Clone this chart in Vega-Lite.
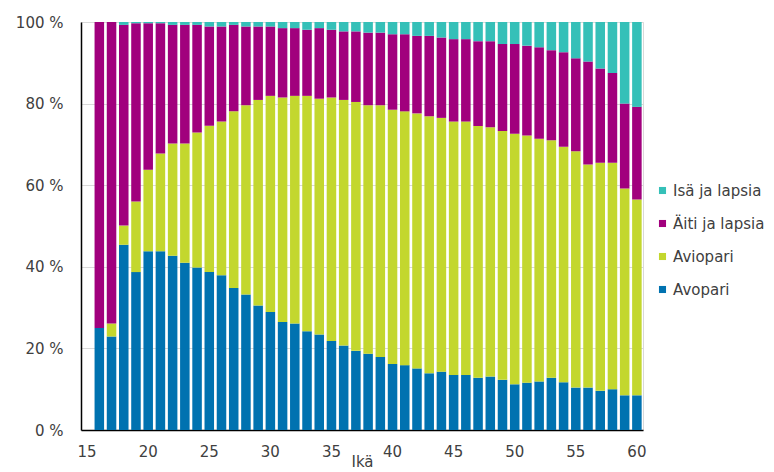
{
  "$schema": "https://vega.github.io/schema/vega-lite/v6.json",
  "width": 562,
  "height": 408,
  "autosize": {"type": "none"},
  "padding": {"left": 81, "top": 22, "right": 131, "bottom": 42},
  "background": "white",
  "config": {
    "font": "DejaVu Sans",
    "view": {"stroke": "#d9d9d9"},
    "axis": {"labelFont": "DejaVu Sans", "titleFont": "DejaVu Sans", "labelColor": "#404040", "titleColor": "#404040"},
    "legend": {"labelFont": "DejaVu Sans", "labelColor": "#404040"}
  },
  "data": {
    "values": [
      {"ika": 16, "Avopari": 25.0, "Aviopari": 0.0, "Äiti ja lapsia": 75.0, "Isä ja lapsia": 0.0},
      {"ika": 17, "Avopari": 22.9, "Aviopari": 3.2, "Äiti ja lapsia": 73.9, "Isä ja lapsia": 0.0},
      {"ika": 18, "Avopari": 45.4, "Aviopari": 4.7, "Äiti ja lapsia": 49.2, "Isä ja lapsia": 0.7},
      {"ika": 19, "Avopari": 38.7, "Aviopari": 17.3, "Äiti ja lapsia": 43.7, "Isä ja lapsia": 0.3},
      {"ika": 20, "Avopari": 43.8, "Aviopari": 20.0, "Äiti ja lapsia": 35.9, "Isä ja lapsia": 0.3},
      {"ika": 21, "Avopari": 43.8, "Aviopari": 24.0, "Äiti ja lapsia": 31.9, "Isä ja lapsia": 0.3},
      {"ika": 22, "Avopari": 42.7, "Aviopari": 27.5, "Äiti ja lapsia": 29.1, "Isä ja lapsia": 0.7},
      {"ika": 23, "Avopari": 41.0, "Aviopari": 29.2, "Äiti ja lapsia": 29.1, "Isä ja lapsia": 0.7},
      {"ika": 24, "Avopari": 39.8, "Aviopari": 33.1, "Äiti ja lapsia": 26.4, "Isä ja lapsia": 0.7},
      {"ika": 25, "Avopari": 38.7, "Aviopari": 35.9, "Äiti ja lapsia": 24.3, "Isä ja lapsia": 1.1},
      {"ika": 26, "Avopari": 37.9, "Aviopari": 37.7, "Äiti ja lapsia": 23.3, "Isä ja lapsia": 1.1},
      {"ika": 27, "Avopari": 34.8, "Aviopari": 43.3, "Äiti ja lapsia": 21.2, "Isä ja lapsia": 0.7},
      {"ika": 28, "Avopari": 33.2, "Aviopari": 46.4, "Äiti ja lapsia": 19.3, "Isä ja lapsia": 1.1},
      {"ika": 29, "Avopari": 30.5, "Aviopari": 50.4, "Äiti ja lapsia": 18.0, "Isä ja lapsia": 1.1},
      {"ika": 30, "Avopari": 28.9, "Aviopari": 53.0, "Äiti ja lapsia": 17.0, "Isä ja lapsia": 1.1},
      {"ika": 31, "Avopari": 26.5, "Aviopari": 55.0, "Äiti ja lapsia": 17.0, "Isä ja lapsia": 1.5},
      {"ika": 32, "Avopari": 26.1, "Aviopari": 55.8, "Äiti ja lapsia": 16.6, "Isä ja lapsia": 1.5},
      {"ika": 33, "Avopari": 24.2, "Aviopari": 57.7, "Äiti ja lapsia": 16.2, "Isä ja lapsia": 1.9},
      {"ika": 34, "Avopari": 23.4, "Aviopari": 57.8, "Äiti ja lapsia": 17.3, "Isä ja lapsia": 1.5},
      {"ika": 35, "Avopari": 21.8, "Aviopari": 59.7, "Äiti ja lapsia": 16.6, "Isä ja lapsia": 1.9},
      {"ika": 36, "Avopari": 20.7, "Aviopari": 60.2, "Äiti ja lapsia": 16.8, "Isä ja lapsia": 2.3},
      {"ika": 37, "Avopari": 19.4, "Aviopari": 61.0, "Äiti ja lapsia": 17.3, "Isä ja lapsia": 2.3},
      {"ika": 38, "Avopari": 18.7, "Aviopari": 60.9, "Äiti ja lapsia": 17.8, "Isä ja lapsia": 2.6},
      {"ika": 39, "Avopari": 17.9, "Aviopari": 61.7, "Äiti ja lapsia": 17.8, "Isä ja lapsia": 2.6},
      {"ika": 40, "Avopari": 16.2, "Aviopari": 62.3, "Äiti ja lapsia": 18.5, "Isä ja lapsia": 3.0},
      {"ika": 41, "Avopari": 15.9, "Aviopari": 62.2, "Äiti ja lapsia": 18.9, "Isä ja lapsia": 3.0},
      {"ika": 42, "Avopari": 15.1, "Aviopari": 62.5, "Äiti ja lapsia": 19.0, "Isä ja lapsia": 3.4},
      {"ika": 43, "Avopari": 13.9, "Aviopari": 63.0, "Äiti ja lapsia": 19.7, "Isä ja lapsia": 3.4},
      {"ika": 44, "Avopari": 14.3, "Aviopari": 62.2, "Äiti ja lapsia": 19.7, "Isä ja lapsia": 3.8},
      {"ika": 45, "Avopari": 13.5, "Aviopari": 62.1, "Äiti ja lapsia": 20.2, "Isä ja lapsia": 4.2},
      {"ika": 46, "Avopari": 13.5, "Aviopari": 62.1, "Äiti ja lapsia": 20.2, "Isä ja lapsia": 4.2},
      {"ika": 47, "Avopari": 12.8, "Aviopari": 61.7, "Äiti ja lapsia": 20.8, "Isä ja lapsia": 4.7},
      {"ika": 48, "Avopari": 13.1, "Aviopari": 61.1, "Äiti ja lapsia": 21.1, "Isä ja lapsia": 4.7},
      {"ika": 49, "Avopari": 12.3, "Aviopari": 61.0, "Äiti ja lapsia": 21.3, "Isä ja lapsia": 5.4},
      {"ika": 50, "Avopari": 11.2, "Aviopari": 61.4, "Äiti ja lapsia": 22.0, "Isä ja lapsia": 5.4},
      {"ika": 51, "Avopari": 11.6, "Aviopari": 60.6, "Äiti ja lapsia": 22.0, "Isä ja lapsia": 5.8},
      {"ika": 52, "Avopari": 11.9, "Aviopari": 59.5, "Äiti ja lapsia": 22.4, "Isä ja lapsia": 6.2},
      {"ika": 53, "Avopari": 12.8, "Aviopari": 58.2, "Äiti ja lapsia": 22.1, "Isä ja lapsia": 6.9},
      {"ika": 54, "Avopari": 11.7, "Aviopari": 57.7, "Äiti ja lapsia": 23.2, "Isä ja lapsia": 7.4},
      {"ika": 55, "Avopari": 10.4, "Aviopari": 57.9, "Äiti ja lapsia": 22.8, "Isä ja lapsia": 8.9},
      {"ika": 56, "Avopari": 10.4, "Aviopari": 54.7, "Äiti ja lapsia": 25.2, "Isä ja lapsia": 9.7},
      {"ika": 57, "Avopari": 9.6, "Aviopari": 55.9, "Äiti ja lapsia": 23.1, "Isä ja lapsia": 11.4},
      {"ika": 58, "Avopari": 10.0, "Aviopari": 55.5, "Äiti ja lapsia": 22.0, "Isä ja lapsia": 12.5},
      {"ika": 59, "Avopari": 8.5, "Aviopari": 50.7, "Äiti ja lapsia": 20.8, "Isä ja lapsia": 20.0},
      {"ika": 60, "Avopari": 8.5, "Aviopari": 48.0, "Äiti ja lapsia": 22.7, "Isä ja lapsia": 20.8}
    ]
  },
  "transform": [
    {"fold": ["Avopari", "Aviopari", "Äiti ja lapsia", "Isä ja lapsia"], "as": ["tyyppi", "osuus"]},
    {"calculate": "indexof(['Avopari', 'Aviopari', 'Äiti ja lapsia', 'Isä ja lapsia'], datum.tyyppi)", "as": "jarjestys"}
  ],
  "mark": {"type": "bar"},
  "encoding": {
    "x": {
      "field": "ika",
      "type": "ordinal",
      "scale": {
        "domain": [15,16,17,18,19,20,21,22,23,24,25,26,27,28,29,30,31,32,33,34,35,36,37,38,39,40,41,42,43,44,45,46,47,48,49,50,51,52,53,54,55,56,57,58,59,60],
        "paddingInner": 0.22,
        "paddingOuter": 0.11
      },
      "axis": {
        "values": [15,20,25,30,35,40,45,50,55,60],
        "labelAngle": 0,
        "labelFontSize": 15,
        "labelPadding": 14,
        "ticks": false,
        "domainColor": "#000000",
        "domainWidth": 1.5,
        "title": "Ikä",
        "titleFontSize": 15,
        "titleFontWeight": "normal",
        "titlePadding": -5
      }
    },
    "y": {
      "field": "osuus",
      "type": "quantitative",
      "stack": "normalize",
      "scale": {"domain": [0, 1]},
      "axis": {
        "values": [0, 0.2, 0.4, 0.6, 0.8, 1],
        "labelExpr": "round(datum.value * 100) + ' %'",
        "labelFontSize": 15,
        "labelPadding": 18,
        "ticks": false,
        "grid": true,
        "gridColor": "#d9d9d9",
        "domainColor": "#000000",
        "domainWidth": 1.5,
        "title": null
      }
    },
    "color": {
      "field": "tyyppi",
      "type": "nominal",
      "scale": {
        "domain": ["Isä ja lapsia", "Äiti ja lapsia", "Aviopari", "Avopari"],
        "range": ["#35C0B8", "#A1007D", "#C3D72E", "#0072B0"]
      },
      "legend": {
        "title": null,
        "orient": "none",
        "legendX": 574,
        "legendY": 161,
        "symbolType": "square",
        "symbolSize": 50,
        "symbolStrokeWidth": 0,
        "labelFontSize": 15,
        "labelOffset": 3,
        "rowPadding": 17
      }
    },
    "order": {"field": "jarjestys", "type": "quantitative"}
  }
}
